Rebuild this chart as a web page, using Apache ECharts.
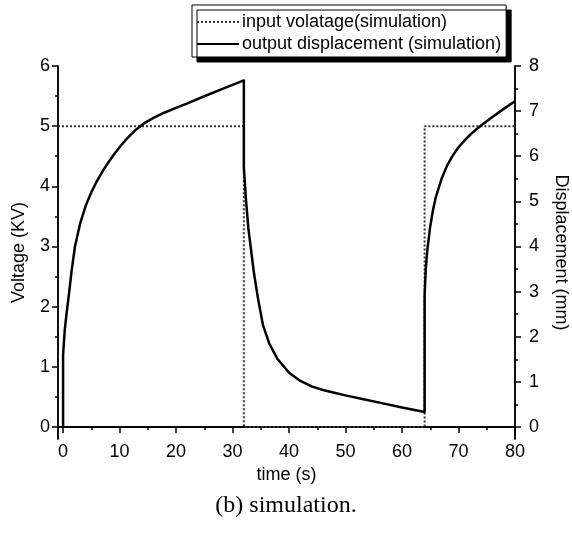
<!DOCTYPE html>
<html>
<head>
<meta charset="utf-8">
<script src="https://cdn.jsdelivr.net/npm/echarts@6/dist/echarts.min.js"></script>
<style>html,body{margin:0;padding:0;background:#fff}#c{width:572px;height:533px}</style>
</head>
<body>
<div id="c"></div>
<script>
// ---- data ----
const timeV = [-0.9, 32, 32, 64, 64, 80];
const voltV = [5, 5, 0, 0, 5, 5];

const timeD = [0, 0, 0.3, 0.6, 0.9, 1.5, 2.1, 3, 4, 5, 6, 7, 8, 9, 10, 11, 12, 13, 14, 15, 16, 18, 20, 22, 25, 28, 30, 32,
  32, 32.4, 32.8, 33.2, 33.8, 34.5, 35.4, 36.5, 38, 40, 42, 44, 46, 48, 50, 53, 56, 60, 64,
  64, 64.2, 64.5, 65, 65.5, 66, 67, 68, 69, 70, 71, 72, 73, 74, 76, 78, 80];
const dispD = [0, 1.6, 2.15, 2.5, 2.8, 3.45, 4.0, 4.5, 4.9, 5.2, 5.45, 5.67, 5.86, 6.04, 6.2, 6.35, 6.48, 6.6, 6.7, 6.78, 6.85, 6.97, 7.07, 7.17, 7.33, 7.48, 7.58, 7.68,
  5.75, 5.0, 4.4, 4.0, 3.4, 2.85, 2.25, 1.85, 1.5, 1.2, 1.02, 0.9, 0.82, 0.76, 0.7, 0.62, 0.54, 0.43, 0.33,
  2.9, 3.5, 3.95, 4.45, 4.82, 5.1, 5.5, 5.8, 6.02, 6.2, 6.34, 6.47, 6.58, 6.68, 6.87, 7.05, 7.22];

const xMajor = [0, 10, 20, 30, 40, 50, 60, 70, 80];
const xMinor = [5, 15, 25, 35, 45, 55, 65, 75];
const yLeftMajor = [0, 1, 2, 3, 4, 5, 6];
const yLeftMinor = [0.5, 1.5, 2.5, 3.5, 4.5, 5.5];
const yRightMajor = [0, 1, 2, 3, 4, 5, 6, 7, 8];
const yRightMinor = [0.5, 1.5, 2.5, 3.5, 4.5, 5.5, 6.5, 7.5];

const legendNames = ['input volatage(simulation)', 'output displacement (simulation)'];

// ---- chart ----
const FONT = 'Liberation Sans';
const X_MIN = -0.9, X_MAX = 80;
const YL_MIN = -0.2, YL_MAX = 6;
const YR_MIN = -0.2667, YR_MAX = 8;
const lineStyleAxis = { color: '#000', width: 1.5 };

function xAx(pos, ticks, len, inside, opts) {
  return Object.assign({
    type: 'value', position: pos, min: X_MIN, max: X_MAX,
    splitLine: { show: false },
    axisLine: { show: true, lineStyle: lineStyleAxis },
    axisTick: { show: true, inside: inside, length: len, customValues: ticks, lineStyle: { color: '#000', width: 1.5 } },
    axisLabel: { show: false }
  }, opts || {});
}
function yAx(pos, mn, mx, ticks, len, opts) {
  return Object.assign({
    type: 'value', position: pos, min: mn, max: mx,
    splitLine: { show: false },
    axisLine: { show: true, onZero: false, lineStyle: lineStyleAxis },
    axisTick: { show: true, inside: false, length: len, customValues: ticks, lineStyle: { color: '#000', width: 1.5 } },
    axisLabel: { show: false }
  }, opts || {});
}

const chart = echarts.init(document.getElementById('c'), null, { renderer: 'canvas' });
chart.setOption({
  animation: false,
  backgroundColor: '#fff',
  textStyle: { fontFamily: FONT, color: '#000' },
  title: {
    text: '(b) simulation.', left: 'center', top: 489,
    textStyle: { fontFamily: 'Liberation Serif', fontSize: 24, fontWeight: 'normal', color: '#000' }
  },
  legend: {
    orient: 'vertical', left: 192, top: 5,
    data: legendNames,
    itemWidth: 42, itemHeight: 14, itemGap: 4,
    padding: [8, 5, 4, 4],
    backgroundColor: '#fff', borderColor: '#000', borderWidth: 1, borderRadius: 0,
    shadowColor: '#000', shadowBlur: 0, shadowOffsetX: 5, shadowOffsetY: 5,
    itemStyle: { opacity: 0 },
    textStyle: { fontFamily: FONT, fontSize: 18, color: '#000', padding: [0, 0, 0, -2] }
  },
  grid: { left: 58, right: 57, top: 66, bottom: 94, containLabel: false, outerBoundsMode: 'none' },
  xAxis: [
    xAx('bottom', xMajor, 6, false, {
      name: 'time (s)', nameLocation: 'middle', nameGap: 22,
      nameTextStyle: { fontFamily: FONT, fontSize: 18, color: '#000' },
      axisLabel: { show: true, customValues: xMajor, fontFamily: FONT, fontSize: 18, color: '#000', margin: 4 }
    }),
    xAx('bottom', xMinor, 3, false),
    xAx('top', xMajor, 6, true),
    xAx('top', xMinor, 3, true)
  ],
  yAxis: [
    yAx('left', YL_MIN, YL_MAX, yLeftMajor, 6, {
      name: 'Voltage (KV)', nameLocation: 'middle', nameGap: 30,
      nameTextStyle: { fontFamily: FONT, fontSize: 18, color: '#000' },
      axisLabel: { show: true, customValues: yLeftMajor, fontFamily: FONT, fontSize: 18, color: '#000', margin: 8 }
    }),
    yAx('right', YR_MIN, YR_MAX, yRightMajor, 6, {
      name: 'Displacement (mm)', nameLocation: 'middle', nameGap: 37, nameRotate: -90,
      nameTextStyle: { fontFamily: FONT, fontSize: 18, color: '#000' },
      axisLabel: { show: true, customValues: yRightMajor, fontFamily: FONT, fontSize: 18, color: '#000', margin: 14 }
    }),
    yAx('left', YL_MIN, YL_MAX, yLeftMinor, 3),
    yAx('right', YR_MIN, YR_MAX, yRightMinor, 3)
  ],
  series: [
    {
      name: legendNames[0], type: 'line', xAxisIndex: 0, yAxisIndex: 0,
      data: timeV.map((t, i) => [t, voltV[i]]),
      symbol: 'none', z: 2,
      lineStyle: { color: '#333', width: 2, type: 'dotted' },
      itemStyle: { color: '#333' }
    },
    {
      name: legendNames[1], type: 'line', xAxisIndex: 0, yAxisIndex: 1,
      data: timeD.map((t, i) => [t, dispD[i]]),
      symbol: 'none', z: 3,
      lineStyle: { color: '#000', width: 2.5, join: 'round' },
      itemStyle: { color: '#000' }
    }
  ]
});
</script>
</body>
</html>
